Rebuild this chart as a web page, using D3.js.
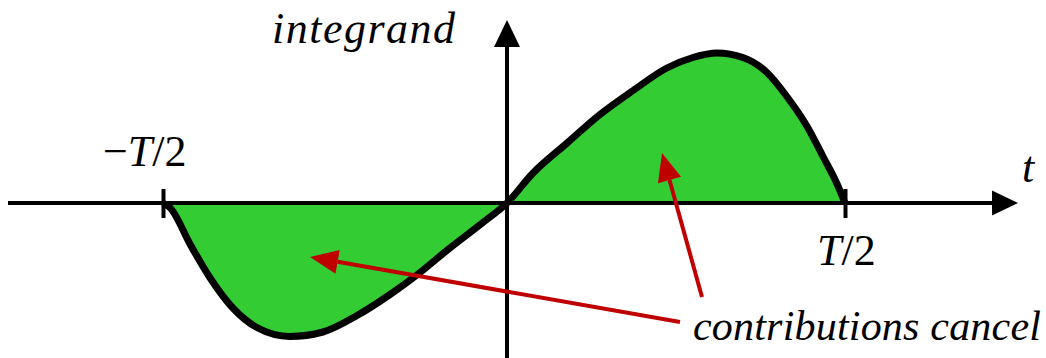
<!DOCTYPE html>
<html lang="en">
<head>
    <meta charset="UTF-8">
    <title>Integrand</title>
    <script src="https://d3js.org/d3.v7.min.js"></script>
    <style>
        body { margin: 0; background: #fff; }
    </style>
</head>
<body>
    <svg id="chart" width="1046" height="358"></svg>
    <script>
        // t in units of T/2, value relative to peak height
        const tValues = [-1, -0.98, -0.92, -0.863, -0.797, -0.727, -0.631, -0.535, -0.436, -0.34, -0.262, -0.166, -0.07,
                         0, 0.077, 0.178, 0.275, 0.373, 0.473, 0.55, 0.621, 0.698, 0.769, 0.828, 0.888, 0.935, 0.976, 1];
        const integrand = [0, -0.03, -0.28, -0.5, -0.7, -0.83, -0.89, -0.86, -0.75, -0.61, -0.48, -0.3, -0.13,
                           0, 0.2, 0.4, 0.59, 0.75, 0.9, 0.97, 1.0, 0.97, 0.87, 0.71, 0.51, 0.31, 0.13, 0];
        const tickValues = [-1, 1];
        const tickLabels = ["−T/2", "T/2"];

        const data = tValues.map((t, i) => ({t: t, v: integrand[i]}));
        const serif = "Liberation Serif";

        const svg = d3.select("#chart");

        const x = d3.scaleLinear().domain([-1, 0, 1]).range([163, 507, 845]);
        const y = d3.scaleLinear().domain([-1, 0, 1]).range([353, 203, 53]);

        const curve = d3.curveMonotoneX;

        // shaded area
        svg.append("path")
            .datum(data)
            .attr("fill", "#33cc33")
            .attr("d", d3.area()
                .x(d => x(d.t))
                .y0(y(0))
                .y1(d => y(d.v))
                .curve(curve));

        // axes
        svg.append("line")
            .attr("x1", 8).attr("x2", 996)
            .attr("y1", y(0)).attr("y2", y(0))
            .attr("stroke", "#000").attr("stroke-width", 4);
        svg.append("path")
            .attr("d", `M1018,${y(0)} L992,${y(0) - 12.5} L992,${y(0) + 12.5} Z`)
            .attr("fill", "#000");

        svg.append("line")
            .attr("x1", x(0)).attr("x2", x(0))
            .attr("y1", 358).attr("y2", 44)
            .attr("stroke", "#000").attr("stroke-width", 4);
        svg.append("path")
            .attr("d", `M${x(0)},20 L${x(0) - 13},47 L${x(0) + 13},47 Z`)
            .attr("fill", "#000");

        const tAxis = svg.append("g")
            .attr("transform", `translate(0,189)`)
            .call(d3.axisBottom(x).tickValues(tickValues).tickSize(29).tickFormat(""));
        tAxis.select(".domain").remove();
        tAxis.selectAll(".tick line").attr("stroke", "#000").attr("stroke-width", 4);

        // curve
        svg.append("path")
            .datum(data)
            .attr("fill", "none")
            .attr("stroke", "#000")
            .attr("stroke-width", 7)
            .attr("stroke-linejoin", "round")
            .attr("d", d3.line()
                .x(d => x(d.t))
                .y(d => y(d.v))
                .curve(curve));

        function label(px, py, size) {
            return svg.append("text")
                .attr("x", px).attr("y", py)
                .style("font-family", serif)
                .attr("font-size", size)
                .attr("fill", "#000");
        }

        // tick labels
        const lab1 = label(x(tickValues[0]) - 60, 166, 44);
        lab1.append("tspan").text(tickLabels[0].slice(0, 1));
        lab1.append("tspan").attr("font-style", "italic").text("T");
        lab1.append("tspan").text(tickLabels[0].slice(2));

        const lab2 = label(x(tickValues[1]) - 28, 265, 44);
        lab2.append("tspan").attr("font-style", "italic").text("T");
        lab2.append("tspan").text(tickLabels[1].slice(1));

        label(1022, 182, 44).attr("font-style", "italic").text("t");

        label(272, 43, 44).attr("font-style", "italic")
            .attr("letter-spacing", 1.5).text("integrand");

        label(693, 340, 42).attr("font-style", "italic")
            .attr("letter-spacing", 0.2).text("contributions cancel");

        // red annotation arrows
        const red = "#c00000";
        function arrow(x1, y1, x2, y2) {
            const a = Math.atan2(y2 - y1, x2 - x1);
            const len = 28, half = 12;
            const bx = x2 - len * Math.cos(a), by = y2 - len * Math.sin(a);
            svg.append("line")
                .attr("x1", x1).attr("y1", y1).attr("x2", bx).attr("y2", by)
                .attr("stroke", red).attr("stroke-width", 4);
            svg.append("path")
                .attr("d", `M${x2},${y2} L${bx + half * Math.sin(a)},${by - half * Math.cos(a)} L${bx - half * Math.sin(a)},${by + half * Math.cos(a)} Z`)
                .attr("fill", red);
        }
        arrow(680, 322, 310, 257);
        arrow(702, 297, 662, 153);
    </script>
</body>
</html>
